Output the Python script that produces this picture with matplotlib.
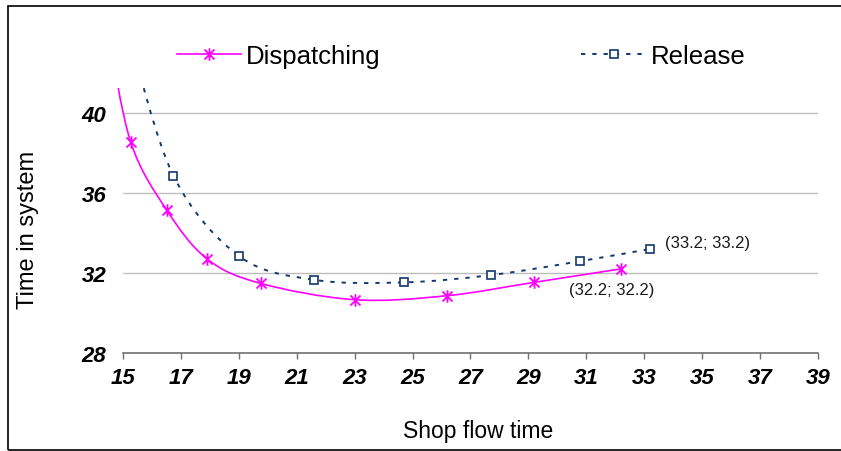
import matplotlib
matplotlib.use('Agg')
import matplotlib.pyplot as plt
from matplotlib.path import Path
from matplotlib.patches import PathPatch, Rectangle
from matplotlib.lines import Line2D

plt.rcParams['font.family'] = ['Liberation Sans', 'DejaVu Sans']

# Data; first point of each series lies above the plot area
disp_x = [14.5, 15.27, 16.51, 17.91, 19.75, 23.01, 26.18, 29.19, 32.2]
disp_y = [44.0, 38.55, 35.15, 32.69, 31.47, 30.65, 30.85, 31.52, 32.2]
rel_x = [15.2, 16.74, 19.02, 21.60, 24.70, 27.72, 30.77, 33.2]
rel_y = [44.0, 36.88, 32.83, 31.65, 31.52, 31.89, 32.58, 33.2]
series_names = ['Dispatching', 'Release']
x_ticks = list(range(15, 40, 2))
y_ticks = [28, 32, 36, 40]
x_label = 'Shop flow time'
y_label = 'Time in system'

DISP_COLOR = '#ff00ff'
REL_COLOR = '#13386a'


def smooth_path(xs, ys):
    pts = list(zip(xs, ys))
    n = len(pts)
    verts = [pts[0]]
    codes = [Path.MOVETO]
    for i in range(n - 1):
        p0 = pts[i - 1] if i > 0 else pts[i]
        p1 = pts[i]
        p2 = pts[i + 1]
        p3 = pts[i + 2] if i + 2 < n else pts[i + 1]
        c1 = (p1[0] + (p2[0] - p0[0]) / 6, p1[1] + (p2[1] - p0[1]) / 6)
        c2 = (p2[0] - (p3[0] - p1[0]) / 6, p2[1] - (p3[1] - p1[1]) / 6)
        verts += [c1, c2, p2]
        codes += [Path.CURVE4] * 3
    return Path(verts, codes)


star = Path([(0, -1), (0, 1), (-0.8, -0.8), (0.8, 0.8), (-0.8, 0.8), (0.8, -0.8)],
            [Path.MOVETO, Path.LINETO, Path.MOVETO, Path.LINETO, Path.MOVETO, Path.LINETO])

W, H = 841, 452
fig = plt.figure(figsize=(W / 100, H / 100), dpi=100)
x_left_px, x_right_px = 117.2, 818.0
y_bot_px, y_top_px = 353.5, 88.6
ax = fig.add_axes([x_left_px / W, (H - y_bot_px) / H,
                   (x_right_px - x_left_px) / W, (y_bot_px - y_top_px) / H])
ax.set_xlim(14.8, 39.0)
ax.set_ylim(28, 41.3)

# gridlines
ax.hlines([32, 36, 40], 15, 39, color='#bdbdbd', lw=1.0, zorder=1)

# curves
ax.add_patch(PathPatch(smooth_path(disp_x, disp_y), fill=False, edgecolor=DISP_COLOR,
                       lw=1.2, zorder=3))
ax.add_patch(PathPatch(smooth_path(rel_x, rel_y), fill=False, edgecolor=REL_COLOR,
                       lw=1.4, linestyle=(0, (2.2, 3.6)), zorder=3))
ax.plot(disp_x, disp_y, linestyle='none', marker=star, markersize=9,
        markeredgecolor=DISP_COLOR, markeredgewidth=1.3, color=DISP_COLOR, zorder=4)
ax.plot(rel_x, rel_y, linestyle='none', marker='s', markersize=6,
        markerfacecolor='white', markeredgecolor=REL_COLOR, markeredgewidth=1.2, zorder=4)

# annotations
ax.annotate(f'({rel_x[-1]}; {rel_y[-1]})', (rel_x[-1], rel_y[-1]), textcoords='offset points',
            xytext=(11, 4.5), ha='left', va='center', fontsize=12, color='#1a1a1a')
ax.annotate(f'({disp_x[-1]}; {disp_y[-1]})', (disp_x[-1], disp_y[-1]), textcoords='offset points',
            xytext=(-7, -15), ha='center', va='center', fontsize=12, color='#1a1a1a')

# axes styling
for s in ['top', 'right', 'left']:
    ax.spines[s].set_visible(False)
ax.spines['bottom'].set_bounds(15, 39)
ax.spines['bottom'].set_color('#6f6f6f')
ax.spines['bottom'].set_linewidth(1.2)
ax.set_xticks(x_ticks)
ax.set_yticks(y_ticks)
ax.tick_params(axis='x', direction='out', length=4.5, width=1.0, color='#6f6f6f', pad=6)
ax.tick_params(axis='y', length=0, pad=8)
for lab in ax.get_xticklabels() + ax.get_yticklabels():
    lab.set_fontsize(16)
    lab.set_fontweight('bold')
    lab.set_fontstyle('italic')

fig.text(478 / W, 1 - 432 / H, x_label, ha='center', va='center', fontsize=16.5)
fig.text(28 / W, 1 - 230 / H, y_label, ha='center', va='center', rotation=90, fontsize=17)

# legend
handles = [
    Line2D([], [], color=DISP_COLOR, lw=1.2, marker=star, markersize=9,
           markeredgecolor=DISP_COLOR, markeredgewidth=1.3),
    Line2D([], [], color=REL_COLOR, lw=1.4, linestyle=(0, (2.2, 3.6)), marker='s', markersize=6,
           markerfacecolor='white', markeredgecolor=REL_COLOR, markeredgewidth=1.2),
]
fig.legend(handles, series_names, loc='center left', bbox_to_anchor=(177 / W, 1 - 57 / H),
           ncol=2, frameon=False, fontsize=18.5, handlelength=2.5, handletextpad=0.2,
           columnspacing=7.8, borderpad=0, borderaxespad=0)

# chart border
fig.add_artist(Rectangle((8 / W, 1 / H), 1.2, 1 - 8 / H, transform=fig.transFigure,
                         fill=False, edgecolor='black', lw=1.2, clip_on=False))

fig.savefig('out.png', dpi=100)
